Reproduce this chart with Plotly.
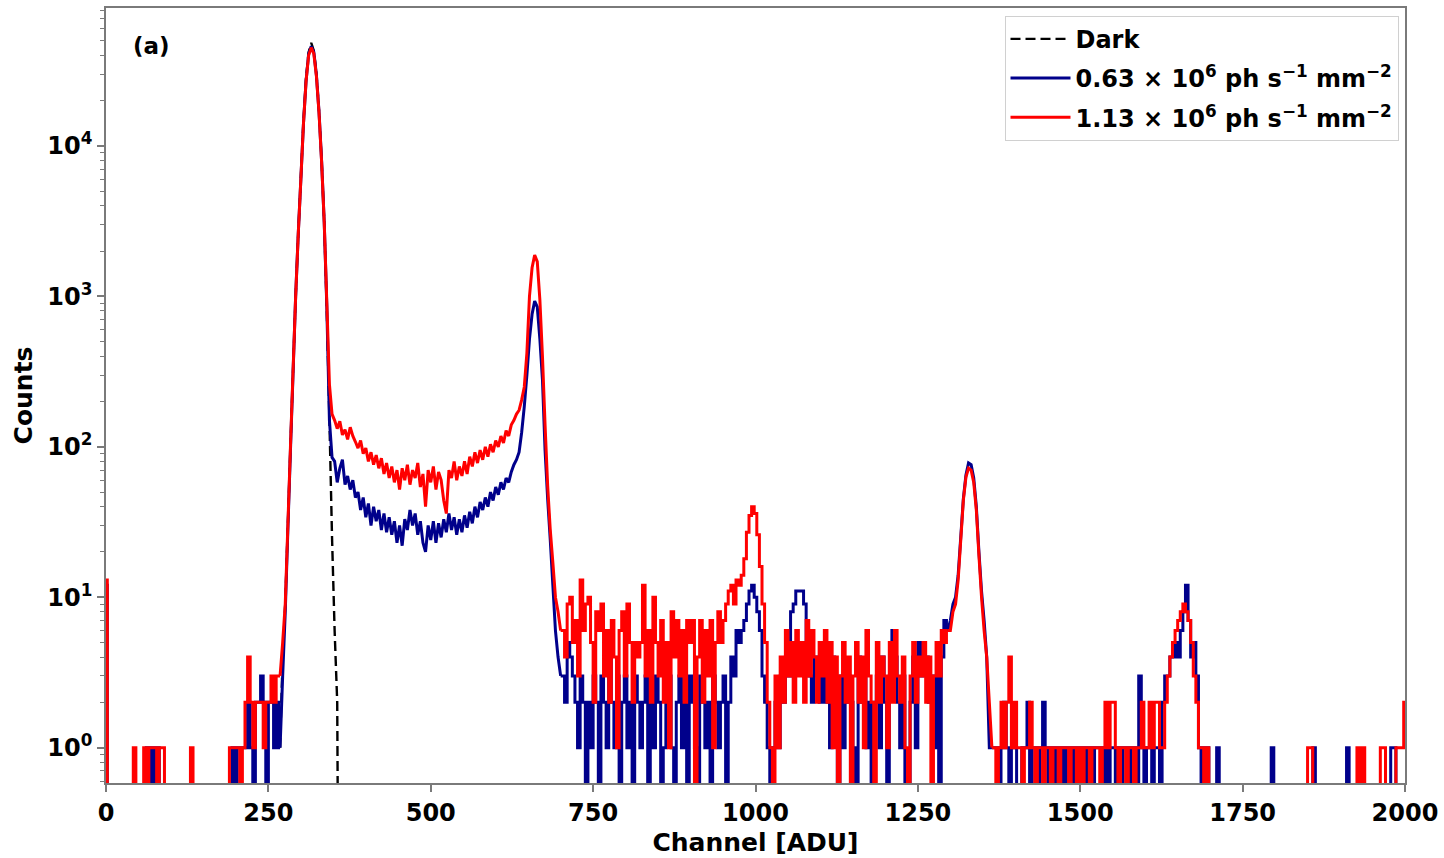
import plotly.graph_objects as go

STEP = 4  # channel spacing of the tabulated values

# ---------------- data (counts) ----------------
# segment start channels
low_start, peak1_start, valley_start, peak2_start = 0, 272, 352, 644
mid_start, peak4_start, high_start = 704, 1300, 1368
dark_start = 268

red_low = [13, 0, 0, 0, 0, 0, 0, 0, 0, 0, 0, 1, 0, 0, 0, 1, 0, 1, 1, 1,
           0, 1, 1, 0, 0, 0, 0, 0, 0, 0, 0, 0, 0, 1, 0, 0, 0, 0, 0, 0,
           0, 0, 0, 0, 0, 0, 0, 0, 1, 1, 1, 1, 0, 1, 2, 4, 2, 1, 2, 2,
           2, 1, 2, 2, 3, 2, 3, 3]
blue_low = [12, 0, 0, 0, 0, 0, 0, 0, 0, 0, 0, 0, 0, 0, 0, 0, 1, 0, 1, 0,
            1, 0, 0, 0, 0, 0, 0, 0, 0, 0, 0, 0, 0, 0, 0, 0, 0, 0, 0, 0,
            0, 0, 0, 0, 0, 0, 0, 0, 0, 1, 0, 1, 1, 1, 1, 2, 1, 0, 2, 2,
            3, 2, 0, 2, 2, 1, 2, 1]

red_peak1 = [5, 9, 30, 100, 320, 1000, 2600, 6000, 14000, 27000, 40000, 45000,
             41000, 29000, 16500, 7800, 3100, 900, 260, 165]
blue_peak1 = [3, 8, 28, 95, 310, 1000, 2600, 6000, 14000, 27000, 41000, 46000,
              42000, 29500, 16800, 7900, 3100, 850, 150, 85]
dark_counts = [1, 4, 9, 30, 100, 320, 1000, 2600, 6100, 14500, 28000, 42000,
               48500, 43000, 30000, 17000, 8000, 3100, 800, 150, 25, 6, 2, 0]

red_valley = [150, 132, 148, 120, 130, 112, 135, 118, 108, 98,
              110, 90, 98, 80, 92, 76, 88, 72, 84, 66,
              78, 62, 74, 58, 70, 52, 72, 60, 76, 56,
              70, 62, 78, 54, 66, 40, 70, 58, 74, 52,
              68, 60, 44, 36, 70, 62, 80, 60, 74, 64,
              80, 66, 86, 74, 92, 78, 95, 82, 100, 86,
              104, 92, 110, 100, 118, 106, 128, 118, 140, 150,
              165, 175, 205]
blue_valley = [80, 58, 72, 82, 56, 64, 52, 60, 46, 50,
               38, 46, 34, 42, 30, 40, 32, 38, 28, 36,
               27, 34, 26, 32, 23, 30, 22, 33, 28, 38,
               30, 36, 26, 32, 23, 20, 30, 24, 32, 23,
               31, 25, 33, 27, 36, 28, 34, 26, 33, 27,
               35, 29, 37, 31, 40, 34, 43, 38, 46, 40,
               50, 44, 54, 48, 58, 52, 62, 58, 68, 76,
               82, 92, 125]

red_peak2 = [250, 420, 1000, 1550, 1880, 1700, 950, 400, 140, 55, 28, 17, 10, 8, 6]
blue_peak2 = [185, 300, 520, 760, 930, 850, 520, 280, 95, 45, 24, 12, 6, 4, 3]

red_mid = [6, 4, 9, 10, 5, 7, 3, 13, 6, 9,
           10, 5, 2, 8, 6, 9, 3, 6, 2, 7,
           4, 1, 6, 8, 3, 9, 5, 2, 5, 4,
           5, 12, 3, 6, 2, 10, 5, 3, 7, 2,
           5, 1, 8, 4, 7, 3, 6, 2, 7, 5,
           7, 0, 4, 7, 2, 6, 3, 7, 1, 5,
           8, 5, 7, 9, 11, 12, 9, 13, 12, 14,
           18, 27, 35, 40, 36, 26, 16, 9, 5, 2,
           1, 0, 3, 1, 4, 2, 6, 3, 5, 2,
           6, 3, 5, 2, 7, 3, 6, 4, 2, 5,
           3, 6, 2, 5, 1, 4, 0, 3, 5, 2,
           4, 0, 3, 5, 2, 4, 1, 6, 3, 2,
           0, 5, 2, 4, 3, 1, 5, 2, 6, 3,
           2, 4, 1, 0, 3, 5, 2, 4, 3, 5,
           2, 4, 0, 3, 5, 3, 6, 5, 6]
blue_mid = [3, 2, 5, 4, 3, 2, 1, 3, 2, 0,
            2, 1, 3, 2, 0, 3, 2, 1, 4, 2,
            1, 3, 0, 2, 3, 1, 2, 0, 3, 2,
            1, 2, 3, 0, 2, 1, 3, 2, 0, 1,
            2, 3, 1, 0, 2, 3, 1, 2, 0, 3,
            2, 1, 0, 3, 2, 1, 2, 0, 3, 2,
            1, 2, 3, 0, 2, 4, 3, 6, 5, 6,
            7, 9, 11, 12, 10, 8, 6, 3, 2, 1,
            0, 1, 2, 1, 3, 2, 4, 3, 8, 9,
            11, 11, 11, 9, 4, 3, 2, 4, 3, 2,
            4, 2, 3, 1, 4, 2, 0, 3, 1, 2,
            3, 2, 1, 0, 4, 2, 3, 1, 2, 0,
            2, 3, 1, 4, 2, 0, 3, 6, 4, 2,
            1, 3, 0, 0, 2, 4, 1, 5, 3, 4,
            4, 2, 3, 1, 3, 0, 4, 7, 6]

red_peak4 = [6, 8, 9, 13, 24, 44, 63, 72, 70, 58, 38, 19, 10, 6, 4, 2, 1]
blue_peak4 = [7, 9, 10, 14, 25, 45, 65, 78, 76, 62, 40, 20, 11, 7, 4, 1, 1]

red_high = [1, 0, 1, 2, 1, 2, 4, 1, 2, 1,
            1, 0, 1, 1, 2, 1, 0, 1, 1, 0,
            1, 1, 0, 1, 1, 0, 1, 1, 1, 0,
            1, 1, 0, 1, 0, 1, 1, 0, 1, 1,
            1, 0, 1, 2, 1, 2, 2, 1, 0, 1,
            1, 0, 1, 1, 0, 1, 1, 2, 1, 1,
            2, 1, 2, 2, 1, 1, 2, 3, 4, 5,
            6, 7, 8, 9, 8, 7, 5, 3, 2, 1,
            1, 0, 1, 0, 0, 0, 0, 0, 0, 0,
            0, 0, 0, 0, 0, 0, 0, 0, 0, 0,
            0, 0, 0, 0, 0, 0, 0, 0, 0, 0,
            0, 0, 0, 0, 0, 0, 0, 0, 0, 0,
            0, 1, 1, 0, 0, 0, 0, 0, 0, 0,
            0, 0, 0, 0, 0, 0, 0, 0, 0, 0,
            1, 0, 1, 0, 0, 0, 0, 0, 0, 1,
            1, 0, 0, 0, 0, 1, 1, 1, 2]
blue_high = [1, 1, 0, 1, 2, 1, 0, 1, 1, 0,
             0, 1, 1, 2, 0, 1, 1, 0, 1, 2,
             1, 0, 1, 0, 1, 1, 0, 1, 0, 1,
             0, 1, 1, 0, 1, 0, 1, 1, 0, 1,
             1, 1, 0, 1, 0, 1, 1, 0, 1, 0,
             1, 1, 0, 1, 1, 0, 3, 1, 0, 1,
             1, 0, 1, 1, 0, 2, 3, 3, 4, 4,
             5, 4, 6, 8, 12, 7, 4, 5, 3, 1,
             0, 1, 1, 0, 0, 0, 1, 0, 0, 0,
             0, 0, 0, 0, 0, 0, 0, 0, 0, 0,
             0, 0, 0, 0, 0, 0, 0, 1, 0, 0,
             0, 0, 0, 0, 0, 0, 0, 0, 0, 0,
             0, 0, 0, 1, 0, 0, 0, 0, 0, 0,
             0, 0, 0, 0, 0, 0, 1, 0, 0, 0,
             0, 0, 0, 0, 0, 0, 0, 0, 0, 0,
             0, 0, 0, 1, 1, 0, 0, 0, 0]

x_ticks = [0, 250, 500, 750, 1000, 1250, 1500, 1750, 2000]
y_ticks = [1, 10, 100, 1000, 10000]
y_tick_text = ["10<sup>0</sup>", "10<sup>1</sup>", "10<sup>2</sup>",
               "10<sup>3</sup>", "10<sup>4</sup>"]

names = ["Dark",
         "0.63 × 10<sup>6</sup> ph s<sup>−1</sup> mm<sup>−2</sup>",
         "1.13 × 10<sup>6</sup> ph s<sup>−1</sup> mm<sup>−2</sup>"]

# ---------------- build series ----------------
ZERO = 1e-3  # zero counts fall off the bottom of a log axis


def pts(start, vals):
    xs = [start + STEP * i for i in range(len(vals))]
    ys = [v if v > 0 else ZERO for v in vals]
    return xs, ys


FONT = "DejaVu Sans"
LW = 3.0
fig = go.Figure()

dx, dy = pts(dark_start, dark_counts)
fig.add_trace(go.Scatter(x=dx, y=dy, mode="lines", name=names[0],
                         legendgroup="a",
                         line=dict(color="black", width=2.4, dash="10px,5px", simplify=False)))


def add_series(segments, name, color, group):
    # noisy low-count stretches drawn as steps, smooth peaks drawn as lines
    prev = None
    first = True
    for start, vals, shape in segments:
        xs, ys = pts(start, vals)
        if prev is not None:
            xs = [prev[0]] + xs
            ys = [prev[1]] + ys
        fig.add_trace(go.Scatter(x=xs, y=ys, mode="lines", name=name,
                                 legendgroup=group, showlegend=first,
                                 line=dict(color=color, width=LW, shape=shape,
                                           simplify=False)))
        first = False
        prev = (xs[-1], ys[-1])


add_series([(low_start, blue_low, "hvh"), (peak1_start, blue_peak1 + blue_valley + blue_peak2, "linear"),
            (mid_start, blue_mid, "hvh"), (peak4_start, blue_peak4, "linear"),
            (high_start, blue_high, "hvh")], names[1], "#00008B", "b")
add_series([(low_start, red_low, "hvh"), (peak1_start, red_peak1 + red_valley + red_peak2, "linear"),
            (mid_start, red_mid, "hvh"), (peak4_start, red_peak4, "linear"),
            (high_start, red_high, "hvh")], names[2], "#FF0000", "c")

axis_color = "#7a7a7a"
fig.update_layout(
    width=1444, height=858,
    margin=dict(l=106, r=34, t=6, b=68),
    paper_bgcolor="white", plot_bgcolor="white",
    showlegend=True,
    legend=dict(x=0.995, xanchor="right", y=0.99, yanchor="top",
                bgcolor="white", bordercolor="#d0d0d0", borderwidth=1,
                font=dict(family=FONT, size=24, color="black", weight="bold"),
                tracegroupgap=5, itemwidth=60),
    annotations=[dict(text="<b>(a)</b>", x=0.019, y=0.951, xref="paper", yref="paper",
                      xanchor="left", yanchor="middle", showarrow=False,
                      font=dict(family=FONT, size=23, color="black"))],
)
fig.update_xaxes(range=[0, 2000], tickmode="array", tickvals=x_ticks,
                 ticks="outside", ticklen=7, tickwidth=1.5, tickcolor=axis_color,
                 showline=True, linecolor=axis_color, linewidth=1.6, mirror=True,
                 showgrid=False, zeroline=False,
                 tickfont=dict(family=FONT, size=24, color="black", weight="bold"),
                 title=dict(text="Channel [ADU]", standoff=8,
                            font=dict(family=FONT, size=25, color="black", weight="bold")))
fig.update_yaxes(type="log", range=[-0.235, 4.917], tickmode="array",
                 tickvals=y_ticks, ticktext=y_tick_text,
                 ticks="outside", ticklen=7, tickwidth=1.5, tickcolor=axis_color,
                 minor=dict(dtick="D1", ticks="outside", ticklen=4, tickwidth=1,
                            tickcolor=axis_color, showgrid=False),
                 showline=True, linecolor=axis_color, linewidth=1.6, mirror=True,
                 showgrid=False, zeroline=False,
                 tickfont=dict(family=FONT, size=24, color="black", weight="bold"),
                 title=dict(text="Counts", standoff=8,
                            font=dict(family=FONT, size=25, color="black", weight="bold")))

fig.write_html("out.html")
